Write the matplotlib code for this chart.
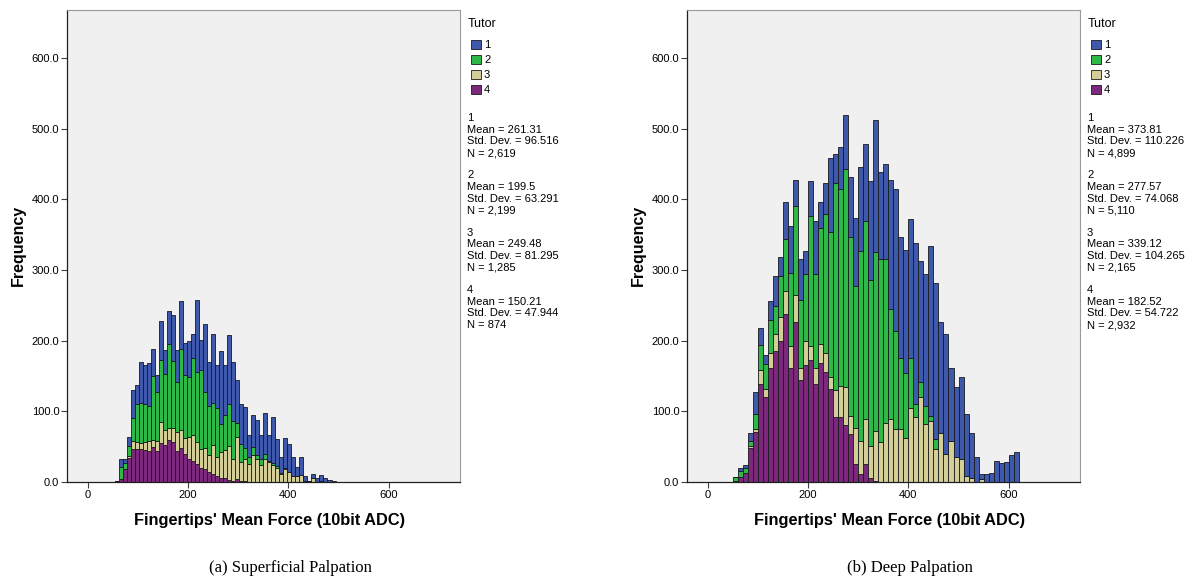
import numpy as np
import matplotlib.pyplot as plt

# ---------------- DATA ---------------- #
# (a) Superficial palpation, bins of 8 starting at 54
sup_start = 54
sup_width = 8
sup_t1 = [0, 12, 6, 13, 40, 26, 58, 55, 60, 38, 23, 56, 34, 46, 65, 46, 68, 45, 51, 34,
          102, 43, 95, 62, 97, 61, 103, 71, 97, 83, 60, 56, 58, 31, 45, 50, 34, 58, 36, 65,
          39, 23, 42, 40, 27, 13, 25, 7, 0, 7, 6, 8, 5, 3, 2]
sup_t2 = [0, 17, 8, 14, 32, 55, 57, 53, 50, 90, 70, 87, 80, 120, 95, 70, 115, 90, 85, 110,
          100, 112, 80, 70, 60, 70, 40, 50, 60, 55, 20, 25, 15, 10, 12, 5, 8, 6, 2, 3,
          2, 1, 2, 0, 0, 0, 0, 0, 0, 0, 0, 0, 0, 0, 0]
sup_t3 = [0, 0, 1, 3, 12, 10, 8, 12, 14, 10, 14, 30, 20, 16, 20, 27, 25, 22, 30, 36,
          30, 26, 30, 24, 40, 26, 36, 40, 48, 30, 60, 28, 32, 26, 38, 33, 24, 33, 28, 24,
          20, 12, 18, 14, 8, 8, 10, 2, 1, 5, 0, 2, 0, 0, 0]
sup_t4 = [2, 4, 18, 34, 46, 46, 47, 45, 44, 50, 44, 55, 53, 60, 56, 44, 48, 40, 33, 30,
          26, 20, 18, 14, 12, 9, 6, 5, 3, 2, 4, 1, 1, 0, 0, 0, 0, 0, 0, 0,
          0, 0, 0, 0, 0, 0, 0, 0, 0, 0, 0, 0, 0, 0, 0]
sup_stats = [("1", "261.31", "96.516", "2,619"),
             ("2", "199.5", "63.291", "2,199"),
             ("3", "249.48", "81.295", "1,285"),
             ("4", "150.21", "47.944", "874")]

# (b) Deep palpation, bins of 10 starting at 50
deep_start = 50
deep_width = 10
deep_t1 = [0, 5, 4, 11, 32, 24, 13, 27, 42, 27, 52, 66, 37, 58, 33, 49, 76, 36, 44, 104,
           41, 60, 76, 84, 96, 119, 110, 140, 187, 124, 134, 182, 201, 172, 175, 197, 228, 172, 187, 240,
           220, 156, 171, 104, 100, 116, 88, 64, 35, 8, 11, 13, 30, 27, 29, 38, 43]
deep_t2 = [6, 8, 7, 7, 21, 35, 36, 47, 39, 58, 73, 103, 127, 95, 95, 184, 132, 164, 197, 206,
           293, 278, 308, 253, 201, 269, 280, 235, 253, 258, 232, 156, 138, 100, 92, 70, 18, 21, 26, 7,
           15, 0, 0, 0, 0, 0, 0, 0, 0, 0, 0, 0, 0, 0, 0, 0, 0]
deep_t3 = [0, 0, 0, 3, 4, 20, 11, 21, 25, 33, 33, 31, 38, 18, 34, 21, 23, 28, 27, 17,
           38, 44, 54, 26, 52, 46, 63, 45, 70, 57, 84, 89, 75, 75, 62, 105, 92, 120, 82, 87,
           46, 70, 39, 58, 35, 32, 8, 5, 0, 4, 0, 0, 0, 0, 0, 0, 0]
deep_t4 = [1, 7, 13, 48, 71, 139, 120, 161, 185, 200, 238, 162, 226, 144, 165, 172, 139, 168, 155, 131,
           92, 92, 81, 68, 25, 12, 26, 6, 2, 0, 0, 0, 0, 0, 0, 0, 0, 0, 0, 0,
           0, 0, 0, 0, 0, 0, 0, 0, 0, 0, 0, 0, 0, 0, 0, 0, 0]
deep_stats = [("1", "373.81", "110.226", "4,899"),
              ("2", "277.57", "74.068", "5,110"),
              ("3", "339.12", "104.265", "2,165"),
              ("4", "182.52", "54.722", "2,932")]

tutors = ["1", "2", "3", "4"]
colors = ["#3E58AC", "#2EB848", "#D3CE97", "#7C287D"]

# ---------------- PLOT ---------------- #
W, H = 1187, 580
fig = plt.figure(figsize=(W / 100, H / 100), dpi=100)
plt.rcParams['font.family'] = ['Liberation Sans', 'DejaVu Sans']


def px(x, y):
    return x / W, 1 - y / H


def panel(x0, start, width, series, stats, caption):
    ax = fig.add_axes([x0 / W, (H - 482) / H, 393 / W, 472 / H])
    ax.set_facecolor("#F0F0F0")
    edges = start + width * np.arange(len(series[0]))
    bottom = np.zeros(len(edges))
    # stack tutor 4 at the bottom, tutor 1 on top
    for k in [3, 2, 1, 0]:
        vals = np.array(series[k])
        ax.bar(edges, vals, width=width, bottom=bottom, align='edge',
               color=colors[k], edgecolor="#1a1a1a", linewidth=0.6)
        bottom = bottom + vals
    ax.set_xlim(-41, 742)
    ax.set_ylim(0, 668)
    ax.set_xticks([0, 200, 400, 600])
    ax.set_yticks([0, 100, 200, 300, 400, 500, 600])
    ax.set_yticklabels(["%.1f" % v for v in [0, 100, 200, 300, 400, 500, 600]])
    ax.tick_params(labelsize=8, length=4, width=0.8, color="#404040", pad=1.5)
    for s in ["top", "right"]:
        ax.spines[s].set_color("#9a9a9a")
        ax.spines[s].set_linewidth(0.8)
    for s in ["left", "bottom"]:
        ax.spines[s].set_color("#202020")
        ax.spines[s].set_linewidth(0.9)

    fig.text(*px(x0 - 49, 245), "Frequency", rotation=90, fontsize=11.5,
             fontweight='bold', ha='center', va='center')
    fig.text(*px(x0 + 203, 521), "Fingertips' Mean Force (10bit ADC)", fontsize=11.8,
             fontweight='bold', ha='center', va='center')
    fig.text(*px(x0 + 223, 568), caption, fontsize=12, family='Liberation Serif',
             ha='center', va='center')

    # legend
    lx = x0 + 400
    fig.text(*px(lx + 1, 24), "Tutor", fontsize=9, ha='left', va='center')
    for k in range(4):
        yy = 45 + 15 * k
        fig.patches.append(plt.Rectangle(px(lx + 4, yy + 4), 10 / W, 9 / H,
                                         transform=fig.transFigure, facecolor=colors[k],
                                         edgecolor="#1a1a1a", linewidth=0.6))
        fig.text(*px(lx + 17, yy), tutors[k], fontsize=8, ha='left', va='center')
    for k, (t, m, sd, n) in enumerate(stats):
        y0 = 118 + 57.3 * k
        lines = [t, "Mean = " + m, "Std. Dev. = " + sd, "N = " + n]
        for j, line in enumerate(lines):
            fig.text(*px(lx, y0 + 11.7 * j), line, fontsize=8, ha='left', va='center')
    return ax


panel(67, sup_start, sup_width, [sup_t1, sup_t2, sup_t3, sup_t4], sup_stats,
      "(a) Superficial Palpation")
panel(687, deep_start, deep_width, [deep_t1, deep_t2, deep_t3, deep_t4], deep_stats,
      "(b) Deep Palpation")

plt.savefig("out.png", dpi=100)
